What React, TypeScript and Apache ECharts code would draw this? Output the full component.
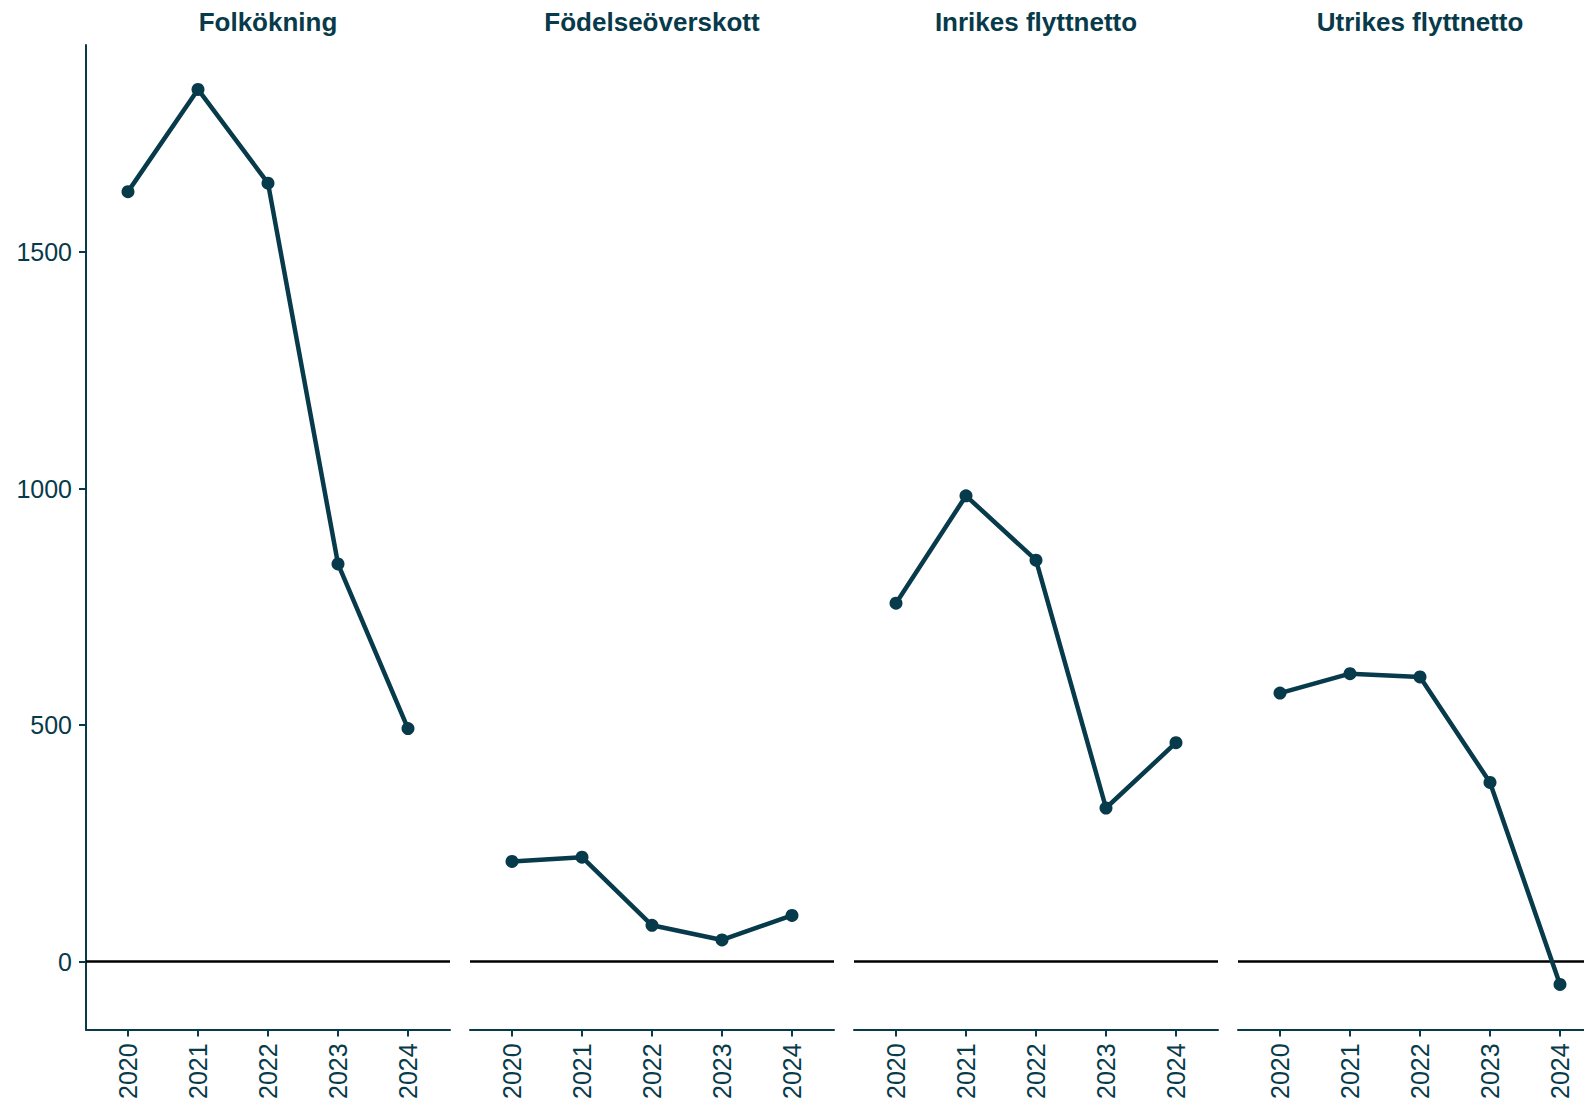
import React, { useEffect, useRef } from "react";
import * as echarts from "echarts";

const years = [2020, 2021, 2022, 2023, 2024];
const panelTitles = ["Folkökning", "Födelseöverskott", "Inrikes flyttnetto", "Utrikes flyttnetto"];
const folkokning = [1628, 1844, 1646, 841, 493];
const fodelseoverskott = [212, 221, 77, 46, 98];
const inrikesFlyttnetto = [758, 985, 849, 325, 463];
const utrikesFlyttnetto = [568, 609, 602, 379, -48];
const yTicks = [0, 500, 1000, 1500];

const panelValues = [folkokning, fodelseoverskott, inrikesFlyttnetto, utrikesFlyttnetto];

const TEAL = "#073a4a";
const FONT = "Liberation Sans";

export default function App() {
  const ref = useRef<HTMLDivElement>(null);
  useEffect(() => {
    if (!ref.current) return;
    const chart = echarts.init(ref.current, undefined, { renderer: "svg" });
    const left0 = 86;
    const panelW = 364;
    const gap = 20;
    const top = 45;
    const height = 985;
    const grids: any[] = [];
    const xAxes: any[] = [];
    const yAxes: any[] = [];
    const series: any[] = [];
    const graphics: any[] = [];
    panelValues.forEach((vals, i) => {
      const left = left0 + i * (panelW + gap);
      grids.push({ left, top, width: panelW, height, containLabel: false });
      xAxes.push({
        type: "value",
        gridIndex: i,
        min: 2019.4,
        max: 2024.6,
        axisLine: { show: true, onZero: false, lineStyle: { color: TEAL, width: 2 } },
        axisTick: { show: true, length: 7, lineStyle: { color: TEAL, width: 2 }, customValues: years },
        axisLabel: {
          show: true,
          rotate: 90,
          margin: 14,
          fontSize: 25,
          fontFamily: FONT,
          color: TEAL,
          customValues: years,
          formatter: (v: number) => String(v),
        },
        splitLine: { show: false },
      });
      yAxes.push({
        type: "value",
        gridIndex: i,
        min: -143,
        max: 1938,
        show: i === 0,
        axisLine: { show: true, onZero: false, lineStyle: { color: TEAL, width: 2 } },
        axisTick: { show: true, length: 7, lineStyle: { color: TEAL, width: 2 }, customValues: yTicks },
        axisLabel: {
          show: true,
          margin: 14,
          fontSize: 25,
          fontFamily: FONT,
          color: TEAL,
          customValues: yTicks,
          formatter: (v: number) => String(v),
        },
        splitLine: { show: false },
      });
      series.push({
        type: "line",
        xAxisIndex: i,
        yAxisIndex: i,
        data: years.map((y, k) => [y, vals[k]]),
        symbol: "circle",
        symbolSize: 13,
        showSymbol: true,
        lineStyle: { color: TEAL, width: 4.5 },
        itemStyle: { color: TEAL },
        z: 3,
        markLine: {
          silent: true,
          symbol: "none",
          label: { show: false },
          lineStyle: { color: "#000000", width: 2.5, type: "solid" },
          data: [{ yAxis: 0 }],
          z: 1,
        },
      });
      graphics.push({
        type: "text",
        x: left + panelW / 2,
        y: 22,
        style: {
          text: panelTitles[i],
          fontSize: 26,
          fontWeight: "bold",
          fontFamily: FONT,
          fill: TEAL,
          align: "center",
          verticalAlign: "middle",
        },
      });
    });
    chart.setOption({
      animation: false,
      backgroundColor: "#ffffff",
      grid: grids,
      xAxis: xAxes,
      yAxis: yAxes,
      series,
      graphic: graphics,
    });
    return () => chart.dispose();
  }, []);
  return (
    <div style={{ position: "absolute", left: 0, top: 0, width: 1584, height: 1102, overflow: "hidden" }}>
      <div ref={ref} style={{ width: 1620, height: 1102 }} />
    </div>
  );
}
